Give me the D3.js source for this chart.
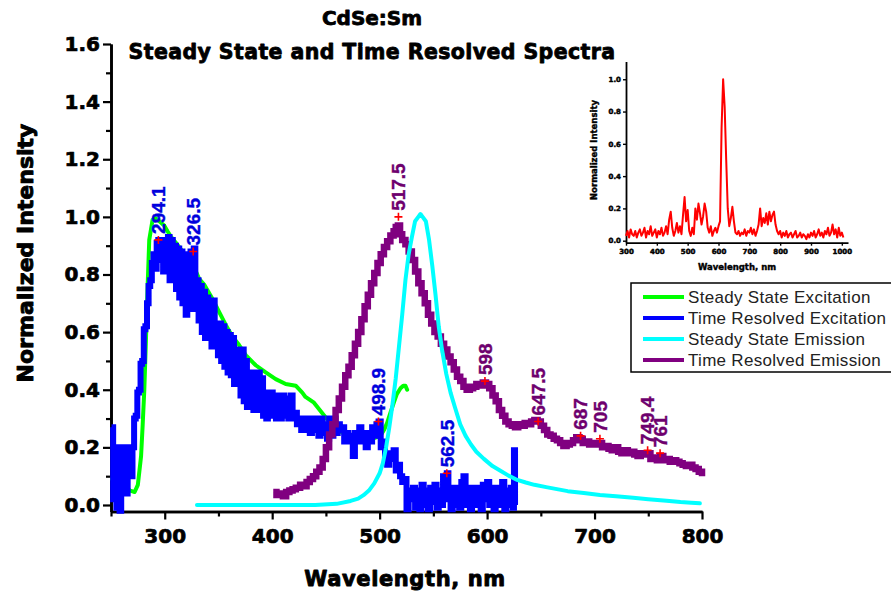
<!DOCTYPE html>
<html>
<head>
<meta charset="utf-8">
<script src="https://cdn.jsdelivr.net/npm/d3@7"></script>
<style>
  html, body { margin: 0; padding: 0; background: #fff; }
  svg { display: block; }
</style>
</head>
<body>
<svg id="chart" width="891" height="592"></svg>
<script>
// ---- Steady state excitation (green) ----
const greenWl = [251, 256, 262, 268, 272, 275, 278, 279.5, 281, 282.5, 284, 285.6, 288.7, 291.8, 295, 299.5, 302.6, 306, 310.4, 316.6, 321.2, 324, 327.4, 332, 336.7, 344.5, 350.6, 356.8, 363, 369.2, 375.4, 384.7, 394, 403.3, 412.6, 421.9, 428, 431, 438.9, 451.3, 460.6, 469.9, 479, 488.4, 495, 500.8, 504, 507, 510, 513.2, 516, 519.4, 522, 524, 525.6];
const greenVal = [0.09, 0.07, 0.06, 0.05, 0.045, 0.07, 0.17, 0.28, 0.4, 0.57, 0.75, 0.92, 0.99, 0.995, 0.985, 0.97, 0.95, 0.93, 0.91, 0.88, 0.835, 0.825, 0.825, 0.785, 0.765, 0.715, 0.67, 0.625, 0.585, 0.555, 0.52, 0.485, 0.46, 0.437, 0.42, 0.414, 0.39, 0.375, 0.355, 0.297, 0.262, 0.24, 0.232, 0.228, 0.232, 0.24, 0.26, 0.285, 0.32, 0.355, 0.385, 0.405, 0.414, 0.414, 0.40];

// ---- Time resolved excitation (blue) ----
const blueWl = [250.5, 252, 253.5, 255, 256.5, 258, 259.5, 261, 262.5, 264, 265.5, 267, 268.5, 270, 271.5, 273, 274.5, 276, 277.5, 279, 280.5, 282, 283.5, 285, 286.5, 288, 289.5, 291, 292.5, 294, 295.5, 297, 298.5, 300, 301.5, 303, 304.5, 306, 307.5, 309, 310.5, 312, 313.5, 315, 316.5, 318, 319.5, 321, 322.5, 324, 325.5, 327, 328.5, 330, 331.5, 333, 334.5, 336, 337.5, 339, 340.5, 342, 343.5, 345, 346.5, 348, 349.5, 351, 352.5, 354, 355.5, 357, 358.5, 360, 361.5, 363, 364.5, 366, 367.5, 369, 370.5, 372, 373.5, 375, 376.5, 378, 379.5, 381, 382.5, 384, 385.5, 387, 388.5, 390, 391.5, 393, 394.5, 396, 397.5, 399, 400.5, 402, 403.5, 405, 407, 409, 411, 413, 415, 417, 419, 421, 423, 425, 427, 429, 431, 433, 435, 437, 439, 441, 443, 445, 447, 449, 451, 453, 455, 457, 459, 461, 463, 465, 467, 469, 471, 473, 475, 477, 479, 481, 483, 485, 487, 489, 491, 493, 495, 497, 499, 501, 503, 505, 507, 509, 511, 513, 515, 517, 519, 521, 523, 525, 527, 529, 531, 533, 535, 537, 539, 541, 543, 545, 547, 549, 551, 553, 555, 557, 559, 561, 562.5, 564, 566, 568, 570, 572, 574, 576, 578, 580, 582, 584, 586, 588, 590, 592, 594, 596, 598, 600, 602, 604, 606, 608, 610, 612, 614, 616, 618, 620, 622, 624, 625, 626];
const blueVal = [0.27, 0.02, 0.2, -0.01, 0.2, -0.02, 0.13, 0.08, 0.2, 0.04, 0.13, 0.2, 0.1, 0.2, 0.3, 0.31, 0.39, 0.4, 0.49, 0.5, 0.61, 0.62, 0.7, 0.76, 0.78, 0.84, 0.87, 0.82, 0.91, 0.92, 0.85, 0.91, 0.81, 0.92, 0.84, 0.93, 0.78, 0.92, 0.8, 0.9, 0.75, 0.89, 0.72, 0.88, 0.7, 0.87, 0.66, 0.84, 0.72, 0.88, 0.68, 0.89, 0.7, 0.78, 0.64, 0.76, 0.6, 0.74, 0.58, 0.72, 0.58, 0.7, 0.55, 0.71, 0.56, 0.63, 0.52, 0.63, 0.5, 0.62, 0.48, 0.6, 0.46, 0.59, 0.45, 0.58, 0.42, 0.54, 0.42, 0.54, 0.38, 0.54, 0.36, 0.5, 0.34, 0.46, 0.36, 0.46, 0.33, 0.44, 0.34, 0.46, 0.33, 0.44, 0.31, 0.38, 0.3, 0.39, 0.31, 0.39, 0.31, 0.38, 0.3, 0.37, 0.3, 0.38, 0.31, 0.37, 0.3, 0.38, 0.3, 0.32, 0.28, 0.3, 0.26, 0.3, 0.26, 0.3, 0.25, 0.3, 0.26, 0.3, 0.24, 0.3, 0.25, 0.28, 0.23, 0.3, 0.24, 0.3, 0.25, 0.28, 0.26, 0.27, 0.22, 0.25, 0.22, 0.24, 0.17, 0.25, 0.22, 0.27, 0.22, 0.25, 0.2, 0.25, 0.22, 0.27, 0.24, 0.28, 0.29, 0.2, 0.22, 0.17, 0.14, 0.18, 0.16, 0.19, 0.12, 0.14, 0.1, 0.08, 0.09, -0.015, 0.05, 0.02, 0.06, -0.01, 0.05, -0.015, 0.07, 0.0, 0.05, -0.015, 0.06, 0.01, 0.07, -0.01, 0.05, 0.0, 0.1, 0.04, 0.11, 0.02, -0.015, 0.06, 0.0, 0.06, -0.01, 0.08, 0.1, 0.0, 0.06, -0.015, 0.05, 0.06, 0.0, 0.06, -0.015, 0.07, 0.02, 0.08, 0.0, 0.06, -0.015, 0.06, 0.0, 0.06, 0.08, -0.015, 0.05, 0.0, 0.06, -0.01, 0.19, 0.0];

// ---- Steady state emission (cyan) ----
const cyanWl = [330, 360, 400, 440, 460, 473, 480, 485, 490, 495, 500, 503, 506, 509, 512, 515, 518, 521, 524, 527, 530, 533, 536, 538, 540, 543, 546, 549, 552, 555, 558, 562, 566, 570, 575, 580, 585, 590, 597, 605, 612, 620, 628, 636, 644, 655, 665, 675, 690, 705, 720, 736, 750, 767, 780, 790, 798];
const cyanVal = [0.0, 0.0, 0.0, 0.0, 0.004, 0.014, 0.022, 0.034, 0.05, 0.075, 0.11, 0.145, 0.2, 0.27, 0.35, 0.44, 0.55, 0.66, 0.78, 0.87, 0.93, 0.985, 1.0, 1.01, 1.0, 0.985, 0.92, 0.83, 0.73, 0.62, 0.54, 0.455, 0.39, 0.34, 0.28, 0.24, 0.21, 0.185, 0.16, 0.135, 0.12, 0.102, 0.087, 0.078, 0.07, 0.062, 0.055, 0.048, 0.042, 0.035, 0.03, 0.025, 0.02, 0.015, 0.01, 0.008, 0.006];

// ---- Time resolved emission (purple) ----
const purpleWl = [401, 404, 407, 410, 413, 416, 419, 422, 426, 429, 432, 435, 438, 441, 444, 447, 450, 453, 456, 459, 462, 465, 468, 471, 474, 477, 480, 483, 486, 489, 492, 495, 498, 501, 504, 507, 510, 513, 515, 517, 519, 521, 524, 527, 530, 533, 536, 539, 542, 545, 548, 551, 554, 557, 560, 563, 566, 569, 572, 575, 578, 581, 584, 587, 590, 593, 596, 599, 602, 605, 608, 611, 614, 617, 620, 623, 626, 629, 632, 635, 638, 641, 644, 647, 650, 653, 656, 659, 662, 665, 668, 671, 674, 677, 680, 683, 686, 689, 692, 695, 698, 701, 704, 707, 710, 713, 716, 719, 722, 725, 728, 731, 734, 737, 740, 743, 746, 749, 752, 755, 758, 761, 764, 767, 770, 773, 776, 779, 782, 785, 788, 791, 794, 797, 800];
const purpleVal = [0.045, 0.035, 0.04, 0.03, 0.045, 0.05, 0.055, 0.06, 0.07, 0.065, 0.08, 0.09, 0.1, 0.115, 0.13, 0.16, 0.2, 0.245, 0.28, 0.33, 0.37, 0.41, 0.45, 0.48, 0.52, 0.56, 0.6, 0.645, 0.69, 0.73, 0.77, 0.805, 0.84, 0.87, 0.895, 0.915, 0.935, 0.95, 0.965, 0.97, 0.94, 0.92, 0.905, 0.88, 0.85, 0.81, 0.77, 0.735, 0.7, 0.66, 0.63, 0.6, 0.585, 0.56, 0.54, 0.515, 0.495, 0.47, 0.445, 0.43, 0.41, 0.4, 0.405, 0.41, 0.42, 0.415, 0.425, 0.42, 0.405, 0.38, 0.36, 0.33, 0.31, 0.29, 0.28, 0.275, 0.27, 0.28, 0.275, 0.285, 0.28, 0.29, 0.295, 0.29, 0.275, 0.26, 0.245, 0.24, 0.23, 0.225, 0.215, 0.205, 0.21, 0.215, 0.225, 0.235, 0.23, 0.215, 0.22, 0.21, 0.215, 0.21, 0.215, 0.2, 0.205, 0.195, 0.19, 0.2, 0.185, 0.18, 0.19, 0.18, 0.185, 0.175, 0.17, 0.18, 0.175, 0.18, 0.16, 0.165, 0.155, 0.17, 0.155, 0.16, 0.15, 0.155, 0.15, 0.145, 0.14, 0.135, 0.14, 0.13, 0.125, 0.115, 0.1];

// ---- Peak picks ----
const bluePeakWl = [294.1, 326.5, 498.9, 562.5];
const bluePeakVal = [0.92, 0.88, 0.29, 0.11];
const purplePeakWl = [517.5, 598, 647.5, 687, 705, 749.4, 761];
const purplePeakVal = [1.0, 0.43, 0.29, 0.24, 0.23, 0.19, 0.18];

// ---- Inset spectrum (red), sampled every 5 nm from 300 nm ----
const insetStart = 300, insetStep = 5;
const insetVal = [0.03, 0.06, 0.02, 0.07, 0.04, 0.03, 0.06, 0.02, 0.05, 0.07, 0.03, 0.05, 0.08, 0.02, 0.06, 0.04, 0.09, 0.03, 0.05, 0.07, 0.02, 0.06, 0.04, 0.08, 0.03, 0.05, 0.09, 0.04, 0.13, 0.18, 0.08, 0.03, 0.06, 0.11, 0.05, 0.09, 0.04, 0.16, 0.27, 0.12, 0.19, 0.06, 0.03, 0.08, 0.04, 0.2, 0.13, 0.23, 0.17, 0.1, 0.15, 0.23, 0.18, 0.08, 0.05, 0.09, 0.03, 0.06, 0.08, 0.05, 0.09, 0.12, 0.7, 1.0, 0.83, 0.5, 0.2, 0.09, 0.14, 0.21, 0.12, 0.05, 0.04, 0.06, 0.03, 0.05, 0.04, 0.07, 0.03, 0.06, 0.05, 0.08, 0.04, 0.07, 0.03, 0.06, 0.1, 0.2, 0.09, 0.14, 0.11, 0.17, 0.1, 0.18, 0.12, 0.16, 0.18, 0.1, 0.06, 0.04, 0.06, 0.02, 0.05, 0.03, 0.06, 0.02, 0.04, 0.05, 0.02, 0.04, 0.06, 0.02, 0.03, 0.05, 0.02, 0.04, 0.03, 0.01, 0.04, 0.02, 0.05, 0.03, 0.06, 0.02, 0.04, 0.07, 0.03, 0.05, 0.02, 0.06, 0.04, 0.08, 0.03, 0.05, 0.1, 0.04, 0.07, 0.02, 0.08, 0.03, 0.05, 0.02];

// ---- Axis ticks and labels ----
const xMajorTicks = [300, 400, 500, 600, 700, 800];
const xMinorTicks = [250, 350, 450, 550, 650, 750];
const yMajorTicks = [0, 0.2, 0.4, 0.6, 0.8, 1.0, 1.2, 1.4, 1.6];
const yMinorTicks = [0.1, 0.3, 0.5, 0.7, 0.9, 1.1, 1.3, 1.5];
const insetXTicks = [300, 400, 500, 600, 700, 800, 900, 1000];
const insetYTicks = [0, 0.2, 0.4, 0.6, 0.8, 1.0];

const legendLabels = ["Steady State Excitation", "Time Resolved Excitation", "Steady State Emission", "Time Resolved Emission"];
const seriesColors = ["#00ff00", "#0000ff", "#00ffff", "#800080"];

const titleLines = ["CdSe:Sm", "Steady State and Time Resolved Spectra"];
const xTitle = "Wavelength, nm";
const yTitle = "Normalized Intensity";

// ---------------------------------------------------------------
const svg = d3.select("#chart");
const heavy = "'DejaVu Sans', sans-serif";
const plain = "'Liberation Sans', Arial, sans-serif";

const x = d3.scaleLinear().domain([250, 800]).range([111, 702]);
const y = d3.scaleLinear().domain([-0.0226, 1.6]).range([511.5, 44]);

const zip = (a, b) => a.map((v, i) => [v, b[i]]);

// heavy black lettering: bold face plus a thin outline to thicken strokes
function heavyText(sel, size, outline) {
  sel.attr("font-family", heavy).attr("font-weight", "bold").attr("font-size", size)
    .attr("fill", "#000").attr("stroke", "#000").attr("stroke-width", outline)
    .attr("stroke-linejoin", "round");
}

// Axes
function styleAxis(g) {
  g.select(".domain").attr("stroke", "#000").attr("stroke-width", 2.6);
  g.selectAll(".tick line").attr("stroke", "#000").attr("stroke-width", 2.2);
  g.selectAll(".tick text").call(heavyText, 20, 0.7);
}

const xAxisY = y.range()[0];
svg.append("g").attr("transform", `translate(0,${xAxisY})`)
  .call(d3.axisBottom(x).tickValues(xMinorTicks).tickSize(5).tickSizeOuter(0).tickFormat(""))
  .call(styleAxis);
svg.append("g").attr("transform", `translate(0,${xAxisY})`)
  .call(d3.axisBottom(x).tickValues(xMajorTicks).tickSize(8).tickSizeOuter(0).tickPadding(9).tickFormat(d3.format("d")))
  .call(styleAxis);

const yAxisX = x.range()[0];
svg.append("g").attr("transform", `translate(${yAxisX},0)`)
  .call(d3.axisLeft(y).tickValues(yMinorTicks).tickSize(5).tickSizeOuter(0).tickFormat(""))
  .call(styleAxis);
svg.append("g").attr("transform", `translate(${yAxisX},0)`)
  .call(d3.axisLeft(y).tickValues(yMajorTicks).tickSize(8).tickSizeOuter(0).tickPadding(3).tickFormat(d3.format(".1f")))
  .call(styleAxis);

// Titles
svg.append("text").attr("x", 372).attr("y", 25).attr("text-anchor", "middle")
  .call(heavyText, 20, 0.8).text(titleLines[0]);
svg.append("text").attr("x", 372).attr("y", 59).attr("text-anchor", "middle")
  .attr("letter-spacing", 0.4)
  .call(heavyText, 20.5, 0.8).text(titleLines[1]);

svg.append("text").attr("x", 405).attr("y", 586).attr("text-anchor", "middle")
  .attr("letter-spacing", 0.6)
  .call(heavyText, 21, 0.9).text(xTitle);
svg.append("text").attr("transform", "translate(33,253) rotate(-90)").attr("text-anchor", "middle")
  .call(heavyText, 22, 0.9).text(yTitle);

// Curves
const lineLin = d3.line().x(d => x(d[0])).y(d => y(d[1]));
const lineStep = d3.line().x(d => x(d[0])).y(d => y(d[1])).curve(d3.curveStepAfter);

const plot = svg.append("g").attr("fill", "none").attr("stroke-linejoin", "round");
plot.append("path").datum(zip(greenWl, greenVal)).attr("d", lineLin)
  .attr("stroke", seriesColors[0]).attr("stroke-width", 4).attr("stroke-linecap", "round");
plot.append("path").datum(zip(blueWl, blueVal)).attr("d", lineStep)
  .attr("stroke", seriesColors[1]).attr("stroke-width", 6).attr("stroke-linejoin", "miter");
plot.append("path").datum(zip(purpleWl, purpleVal)).attr("d", lineStep)
  .attr("stroke", seriesColors[3]).attr("stroke-width", 6.5).attr("stroke-linejoin", "miter");
plot.append("path").datum(zip(cyanWl, cyanVal)).attr("d", lineLin)
  .attr("stroke", seriesColors[2]).attr("stroke-width", 4).attr("stroke-linecap", "round");

// Peak markers and labels
function drawPeaks(wl, val, color) {
  const g = svg.append("g");
  wl.forEach((w, i) => {
    const px = x(w), py = y(val[i]);
    g.append("path").attr("d", `M${px - 4},${py}H${px + 4}M${px},${py - 4}V${py + 4}`)
      .attr("stroke", "#ff0000").attr("stroke-width", 1.6);
    g.append("text")
      .attr("transform", `translate(${px},${py - 6}) rotate(-90)`)
      .attr("dy", "0.36em")
      .attr("font-family", plain).attr("font-weight", "bold").attr("font-size", 19)
      .attr("fill", color).attr("stroke", color).attr("stroke-width", 0.4)
      .text(String(w));
  });
}
drawPeaks(bluePeakWl, bluePeakVal, "#0000dd");
drawPeaks(purplePeakWl, purplePeakVal, "#6e006e");

// Legend
const lg = svg.append("g");
lg.append("rect").attr("x", 631).attr("y", 283).attr("width", 300).attr("height", 89)
  .attr("fill", "#fff").attr("stroke", "#000").attr("stroke-width", 1.5);
legendLabels.forEach((lab, i) => {
  const cy = 297 + i * 21;
  lg.append("line").attr("x1", 643).attr("x2", 684).attr("y1", cy).attr("y2", cy)
    .attr("stroke", seriesColors[i]).attr("stroke-width", 4);
  lg.append("text").attr("x", 688).attr("y", cy).attr("dy", "0.35em")
    .attr("font-family", plain).attr("font-size", 17).attr("fill", "#222")
    .attr("letter-spacing", 0.3)
    .text(lab);
});

// Inset
const ix = d3.scaleLinear().domain([300, 1020]).range([626, 848]);
const iy = d3.scaleLinear().domain([-0.0124, 1.11]).range([242.7, 61.5]);
const inset = svg.append("g");
function styleInset(g) {
  g.select(".domain").attr("stroke", "#000").attr("stroke-width", 1.8);
  g.selectAll(".tick line").attr("stroke", "#000").attr("stroke-width", 1.4);
  g.selectAll(".tick text").call(heavyText, 7, 0.5);
}
inset.append("g").attr("transform", `translate(0,${iy.range()[0]})`)
  .call(d3.axisBottom(ix).tickValues(insetXTicks).tickSize(3).tickSizeOuter(0).tickPadding(3).tickFormat(d3.format("d")))
  .call(styleInset);
inset.append("g").attr("transform", `translate(${ix.range()[0]},0)`)
  .call(d3.axisLeft(iy).tickValues(insetYTicks).tickSize(3).tickSizeOuter(0).tickPadding(2).tickFormat(d3.format(".1f")))
  .call(styleInset);
inset.append("text").attr("x", 737).attr("y", 270).attr("text-anchor", "middle")
  .call(heavyText, 8.5, 0.4).text(xTitle);
inset.append("text").attr("transform", "translate(597,150) rotate(-90)").attr("text-anchor", "middle")
  .call(heavyText, 8.5, 0.4).text(yTitle);
const insetLine = d3.line().x((d, i) => ix(insetStart + i * insetStep)).y(d => iy(d));
inset.append("path").datum(insetVal).attr("d", insetLine)
  .attr("fill", "none").attr("stroke", "#ff0000").attr("stroke-width", 2).attr("stroke-linejoin", "round");
</script>
</body>
</html>
